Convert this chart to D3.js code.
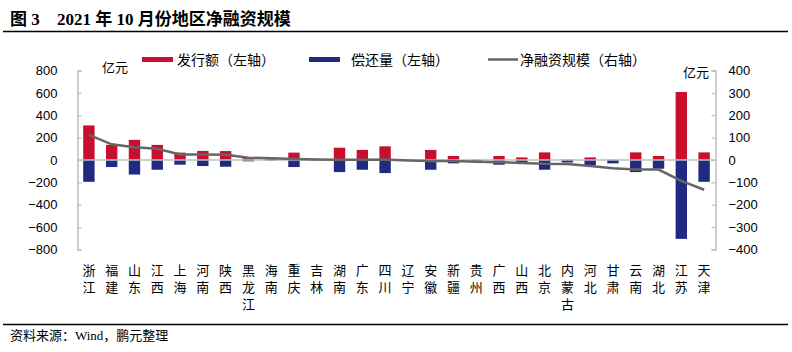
<!DOCTYPE html>
<html><head><meta charset="utf-8">
<script src="https://cdn.jsdelivr.net/npm/d3@7"></script>
<style>
body{margin:0;background:#fff;}
svg{display:block;}
</style></head>
<body>
<svg id="chart" width="792" height="352"></svg>
<script>
const categories = ["浙江","福建","山东","江西","上海","河南","陕西","黑龙江","海南","重庆","吉林","湖南","广东","四川","辽宁","安徽","新疆","贵州","广西","山西","北京","内蒙古","河北","甘肃","云南","湖北","江苏","天津"];
const issuance = [309,135,180,135,66,81,80,20,15,66,3,110,90,122,3,90,36,3,36,23,68,3,23,2,68,36,608,68];
const repayment = [-195,-63,-130,-87,-42,-54,-60,-12,-5,-63,-3,-108,-87,-117,-5,-87,-30,-12,-42,-30,-87,-22,-48,-30,-108,-78,-705,-195];
const netFinancing = [112,70,57,50,25,25,23,10,8,4,2,1,1,2,-2,-4,-5,-8,-10,-13,-17,-18,-27,-37,-42,-43,-93,-133];
const leftTicks = [800,600,400,200,0,-200,-400,-600,-800];
const rightTicks = [400,300,200,100,0,-100,-200,-300,-400];
const seriesNames = ["发行额（左轴）","偿还量（左轴）","净融资规模（右轴）"];

const svg = d3.select("#chart");
const x0 = 77.5, x1 = 715.5, yTop = 70.5, yBot = 249.5;
const red = "#C8102E", blue = "#1F2A80", lineGray = "#666666", axisGray = "#BFBFBF";

const x = d3.scaleBand().domain(categories).range([x0, x1]).paddingInner(0.5).paddingOuter(0.25);
const yL = d3.scaleLinear().domain([-800, 800]).range([yBot, yTop]);
const yR = d3.scaleLinear().domain([-400, 400]).range([yBot, yTop]);

// Title
const title = svg.append("text").attr("x", 10).attr("y", 25)
  .attr("font-family", "'Liberation Serif','Noto Sans CJK SC',serif")
  .attr("font-weight", "bold").attr("font-size", 17).attr("fill", "#000");
title.append("tspan").text("图 3");
title.append("tspan").attr("x", 57).text("2021 年 10 月份地区净融资规模");
svg.append("line").attr("x1", 3).attr("x2", 788).attr("y1", 31.5).attr("y2", 31.5)
  .attr("stroke", "#000").attr("stroke-width", 1.3);

// Footer
svg.append("line").attr("x1", 3).attr("x2", 788).attr("y1", 324.5).attr("y2", 324.5)
  .attr("stroke", "#000").attr("stroke-width", 1.3);
svg.append("text").attr("x", 10).attr("y", 340)
  .attr("font-family", "'Liberation Serif','Noto Sans CJK SC',serif")
  .attr("font-size", 13).attr("fill", "#000").text("资料来源：Wind，鹏元整理");

const sans = "'Liberation Sans',Arial,'Noto Sans CJK SC',sans-serif";

// Bars
svg.append("g").selectAll("rect").data(categories).join("rect")
  .attr("x", d => x(d)).attr("width", x.bandwidth())
  .attr("y", (d,i) => yL(issuance[i])).attr("height", (d,i) => yL(0) - yL(issuance[i]))
  .attr("fill", red);
svg.append("g").selectAll("rect").data(categories).join("rect")
  .attr("x", d => x(d)).attr("width", x.bandwidth())
  .attr("y", yL(0)).attr("height", (d,i) => yL(repayment[i]) - yL(0))
  .attr("fill", blue);

// zero line
svg.append("line").attr("x1", x0).attr("x2", x1).attr("y1", yL(0)).attr("y2", yL(0))
  .attr("stroke", axisGray).attr("stroke-width", 1.5);

// Left axis
const gL = svg.append("g").attr("transform", `translate(${x0},0)`)
  .call(d3.axisLeft(yL).tickValues(leftTicks).tickSize(-4).tickPadding(20)
    .tickFormat(d => d < 0 ? "−" + Math.abs(d) : d));
gL.select(".domain").attr("stroke", axisGray).attr("stroke-width", 1.5);
gL.selectAll(".tick line").attr("stroke", axisGray).attr("stroke-width", 1.2);
gL.selectAll(".tick text").attr("font-family", sans).attr("font-size", 13).attr("fill", "#000");

// Right axis
const gR = svg.append("g").attr("transform", `translate(${x1},0)`)
  .call(d3.axisRight(yR).tickValues(rightTicks).tickSize(-4).tickPadding(13)
    .tickFormat(d => d < 0 ? "−" + Math.abs(d) : d));
gR.select(".domain").attr("stroke", axisGray).attr("stroke-width", 1.5);
gR.selectAll(".tick line").attr("stroke", axisGray).attr("stroke-width", 1.2);
gR.selectAll(".tick text").attr("font-family", sans).attr("font-size", 13).attr("fill", "#000");

// Net line
const line = d3.line().x((d,i) => x(categories[i]) + x.bandwidth()/2).y(d => yR(d));
svg.append("path").datum(netFinancing).attr("d", line)
  .attr("fill", "none").attr("stroke", lineGray).attr("stroke-width", 2.5);

// Units
svg.append("text").attr("x", 102).attr("y", 72).attr("font-family", sans).attr("font-size", 13).text("亿元");
svg.append("text").attr("x", 683).attr("y", 77).attr("font-family", sans).attr("font-size", 13).text("亿元");

// Category labels (vertical stacked chars)
const lab = svg.append("g").selectAll("text").data(categories).join("text")
  .attr("font-family", sans).attr("font-size", 13).attr("fill", "#000")
  .attr("text-anchor", "middle");
lab.each(function(d) {
  const t = d3.select(this);
  const cx = x(d) + x.bandwidth()/2;
  Array.from(d).forEach((ch, k) => {
    t.append("tspan").attr("x", cx).attr("y", 275 + k*17).text(ch);
  });
});

// Legend
const lg = svg.append("g").attr("font-family", sans).attr("font-size", 14).attr("fill", "#000");
lg.append("rect").attr("x", 142).attr("y", 57).attr("width", 31).attr("height", 5).attr("fill", red);
lg.append("text").attr("x", 177).attr("y", 65).text(seriesNames[0]);
lg.append("rect").attr("x", 309).attr("y", 57).attr("width", 31).attr("height", 5).attr("fill", blue);
lg.append("text").attr("x", 351).attr("y", 65).text(seriesNames[1]);
lg.append("line").attr("x1", 488).attr("x2", 518).attr("y1", 59.5).attr("y2", 59.5)
  .attr("stroke", lineGray).attr("stroke-width", 2.5);
lg.append("text").attr("x", 520).attr("y", 65).text(seriesNames[2]);
</script>
</body></html>
